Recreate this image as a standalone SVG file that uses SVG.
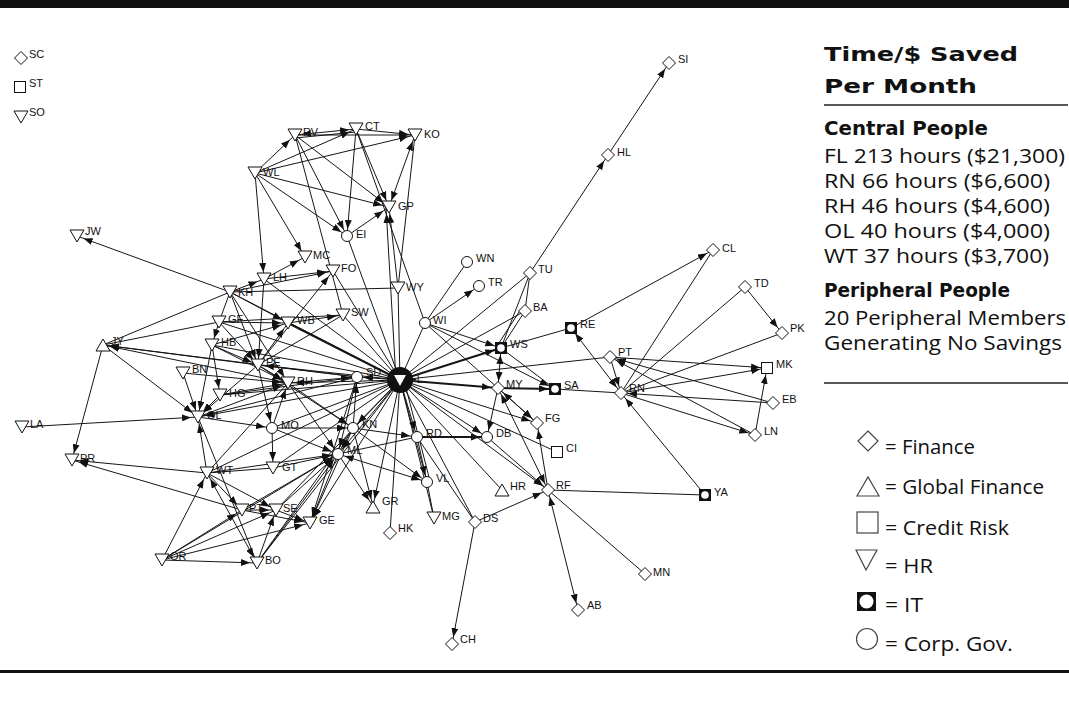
<svg xmlns="http://www.w3.org/2000/svg" xmlns:xlink="http://www.w3.org/1999/xlink" width="1069" height="702" viewBox="0 0 1069 702">
<style>
.e line{stroke:#161616;stroke-width:1;fill:none}
.e .a{marker-end:url(#ah)}
.e .b{marker-start:url(#ah);marker-end:url(#ah)}
.e .t{stroke-width:2}
.lb{font-family:"Liberation Sans Narrow","Liberation Sans",Arial,sans-serif;font-size:11px;fill:#111}
.p{font-family:"Open Sans",Lato,"Liberation Sans",sans-serif;fill:#111;font-size:20px}
.h{font-family:"DejaVu Sans","Open Sans",sans-serif;font-weight:bold}
.sh{fill:#fff;stroke:#111;stroke-width:1}
.lg{fill:#fff;stroke:#444;stroke-width:1.2}
</style>
<defs>
<marker id="ah" markerUnits="userSpaceOnUse" markerWidth="9" markerHeight="7" refX="16" refY="3.5" orient="auto-start-reverse"><path d="M0,0L9,3.5L0,7z" fill="#111"/></marker>
<polygon id="dia" class="sh" points="0,-6.5 6.5,0 0,6.5 -6.5,0"/>
<polygon id="tdn" class="sh" points="-7,-6 7,-6 0,6"/>
<polygon id="tup" class="sh" points="-7,6 7,6 0,-6"/>
<rect id="sq" class="sh" x="-5.5" y="-5.5" width="11" height="11"/>
<g id="it"><rect x="-6" y="-6" width="12" height="12" fill="#111"/><circle r="3.8" fill="#fff"/></g>
<circle id="cg" class="sh" r="5.5"/>
</defs>
<rect width="1069" height="702" fill="#fff"/>
<rect x="0" y="0" width="1069" height="8" fill="#111"/>
<rect x="0" y="670" width="1069" height="3" fill="#111"/>

<g id="edges" class="e">
<line class="a" x1="255" y1="173" x2="295" y2="135"/>
<line class="a" x1="255" y1="173" x2="356" y2="129"/>
<line class="a" x1="255" y1="173" x2="415" y2="135"/>
<line class="a" x1="255" y1="173" x2="389" y2="207"/>
<line class="a" x1="255" y1="173" x2="347" y2="236"/>
<line class="a" x1="255" y1="173" x2="305" y2="257"/>
<line class="a" x1="255" y1="173" x2="264" y2="279"/>
<line class="b" x1="295" y1="135" x2="356" y2="129"/>
<line x1="295" y1="138" x2="356" y2="132"/>
<line class="a" x1="295" y1="135" x2="415" y2="135"/>
<line class="a" x1="295" y1="135" x2="389" y2="207"/>
<line class="a" x1="295" y1="135" x2="347" y2="236"/>
<line class="a" x1="356" y1="129" x2="415" y2="135"/>
<line class="a" x1="356" y1="129" x2="389" y2="207"/>
<line class="a" x1="356" y1="129" x2="347" y2="236"/>
<line x1="356" y1="129" x2="425" y2="323"/>
<line class="b" x1="415" y1="135" x2="389" y2="207"/>
<line x1="415" y1="135" x2="398" y2="288"/>
<line class="a" x1="398" y1="288" x2="389" y2="207"/>
<line class="a" x1="396" y1="380" x2="386" y2="207"/>
<line class="a" x1="347" y1="236" x2="389" y2="207"/>
<line x1="347" y1="236" x2="400" y2="380"/>
<line x1="295" y1="135" x2="343" y2="315"/>
<line class="a" x1="230" y1="292" x2="77" y2="236"/>
<line class="a" x1="230" y1="292" x2="264" y2="279"/>
<line class="a" x1="230" y1="292" x2="333" y2="271"/>
<line x1="230" y1="292" x2="398" y2="288"/>
<line class="a" x1="264" y1="279" x2="305" y2="257"/>
<line class="a" x1="264" y1="279" x2="333" y2="271"/>
<line class="a" x1="264" y1="279" x2="258" y2="365"/>
<line class="a" x1="230" y1="292" x2="258" y2="365"/>
<line class="a" x1="230" y1="292" x2="288" y2="383"/>
<line x1="230" y1="292" x2="103" y2="345"/>
<line class="a" x1="230" y1="292" x2="288" y2="323"/>
<line x1="230" y1="292" x2="219" y2="322"/>
<line class="a" x1="219" y1="322" x2="212" y2="345"/>
<line class="a" x1="219" y1="322" x2="288" y2="323"/>
<line class="a" x1="219" y1="322" x2="258" y2="365"/>
<line x1="219" y1="322" x2="343" y2="315"/>
<line x1="103" y1="345" x2="219" y2="322"/>
<line class="a" x1="212" y1="345" x2="220" y2="395"/>
<line class="a" x1="212" y1="345" x2="198" y2="417"/>
<line class="a" x1="212" y1="345" x2="288" y2="323"/>
<line class="a" x1="212" y1="345" x2="258" y2="365"/>
<line class="a" x1="212" y1="345" x2="288" y2="383"/>
<line class="a" x1="103" y1="345" x2="72" y2="460"/>
<line class="a" x1="103" y1="345" x2="198" y2="417"/>
<line class="a" x1="258" y1="365" x2="103" y2="345"/>
<line class="a" x1="288" y1="383" x2="103" y2="345"/>
<line class="a" x1="357" y1="377" x2="103" y2="345"/>
<line class="a" x1="183" y1="373" x2="198" y2="417"/>
<line class="a" x1="183" y1="373" x2="288" y2="383"/>
<line class="a" x1="220" y1="395" x2="198" y2="417"/>
<line class="a" x1="220" y1="395" x2="288" y2="383"/>
<line x1="220" y1="395" x2="357" y2="377"/>
<line class="a" x1="258" y1="365" x2="198" y2="417"/>
<line class="a" x1="258" y1="365" x2="272" y2="428"/>
<line class="a" x1="258" y1="365" x2="288" y2="383"/>
<line x1="258" y1="365" x2="357" y2="377"/>
<line class="a" x1="258" y1="365" x2="288" y2="323"/>
<line class="a" x1="258" y1="365" x2="333" y2="271"/>
<line class="a" x1="258" y1="365" x2="353" y2="428"/>
<line class="a" x1="22" y1="427" x2="198" y2="417"/>
<line class="a" x1="207" y1="473" x2="198" y2="417"/>
<line x1="198" y1="417" x2="257" y2="563"/>
<line class="a" x1="198" y1="417" x2="288" y2="383"/>
<line x1="198" y1="417" x2="357" y2="377"/>
<line class="a" x1="198" y1="417" x2="272" y2="428"/>
<line class="a" x1="207" y1="473" x2="72" y2="460"/>
<line class="a" x1="242" y1="510" x2="72" y2="460"/>
<line x1="207" y1="473" x2="273" y2="468"/>
<line class="a" x1="207" y1="473" x2="338" y2="454"/>
<line class="a" x1="207" y1="473" x2="242" y2="510"/>
<line class="a" x1="207" y1="473" x2="276" y2="510"/>
<line class="b" x1="207" y1="473" x2="257" y2="563"/>
<line class="a" x1="162" y1="560" x2="207" y2="473"/>
<line class="a" x1="162" y1="560" x2="242" y2="510"/>
<line class="a" x1="162" y1="560" x2="276" y2="510"/>
<line class="a" x1="162" y1="560" x2="310" y2="523"/>
<line class="a" x1="162" y1="560" x2="257" y2="563"/>
<line class="a" x1="162" y1="560" x2="338" y2="454"/>
<line class="a" x1="257" y1="563" x2="276" y2="510"/>
<line class="a" x1="257" y1="563" x2="338" y2="454"/>
<line class="a" x1="242" y1="510" x2="276" y2="510"/>
<line class="a" x1="276" y1="510" x2="310" y2="523"/>
<line class="a" x1="242" y1="510" x2="310" y2="523"/>
<line class="a" x1="276" y1="510" x2="338" y2="454"/>
<line class="a" x1="338" y1="454" x2="310" y2="523"/>
<line class="a" x1="273" y1="468" x2="338" y2="454"/>
<line class="a" x1="272" y1="428" x2="273" y2="468"/>
<line class="a" x1="272" y1="428" x2="353" y2="428"/>
<line class="a" x1="272" y1="428" x2="288" y2="383"/>
<line class="a" x1="272" y1="428" x2="338" y2="454"/>
<line class="a" x1="288" y1="383" x2="338" y2="454"/>
<line class="a" x1="288" y1="383" x2="353" y2="428"/>
<line class="a" x1="288" y1="383" x2="357" y2="377"/>
<line class="a" x1="353" y1="428" x2="357" y2="377"/>
<line class="a" x1="357" y1="377" x2="338" y2="454"/>
<line class="a" x1="353" y1="428" x2="338" y2="454"/>
<line class="a" x1="353" y1="428" x2="417" y2="437"/>
<line class="a" x1="353" y1="428" x2="373" y2="506"/>
<line class="a" x1="353" y1="428" x2="427" y2="482"/>
<line class="a" x1="338" y1="454" x2="373" y2="506"/>
<line class="b" x1="338" y1="454" x2="427" y2="482"/>
<line x1="338" y1="454" x2="417" y2="437"/>
<line class="a t" x1="417" y1="437" x2="487" y2="437"/>
<line x1="417" y1="437" x2="427" y2="482"/>
<line x1="427" y1="482" x2="434" y2="518"/>
<line x1="417" y1="437" x2="475" y2="522"/>
<line x1="400" y1="380" x2="390" y2="533"/>
<line class="a" x1="400" y1="380" x2="373" y2="506"/>
<line class="a" x1="400" y1="380" x2="427" y2="482"/>
<line x1="404" y1="380" x2="430" y2="481"/>
<line class="a" x1="400" y1="380" x2="417" y2="437"/>
<line class="a" x1="400" y1="380" x2="487" y2="437"/>
<line class="a" x1="400" y1="380" x2="537" y2="423"/>
<line x1="400" y1="380" x2="557" y2="452"/>
<line class="a" x1="400" y1="380" x2="548" y2="490"/>
<line x1="400" y1="380" x2="502" y2="490"/>
<line class="a t" x1="400" y1="380" x2="498" y2="388"/>
<line class="a t" x1="400" y1="380" x2="501" y2="348"/>
<line x1="400" y1="380" x2="610" y2="357"/>
<line x1="400" y1="380" x2="530" y2="273"/>
<line x1="400" y1="380" x2="525" y2="311"/>
<line x1="400" y1="380" x2="425" y2="323"/>
<line x1="425" y1="323" x2="467" y2="262"/>
<line class="a" x1="425" y1="323" x2="479" y2="286"/>
<line class="a" x1="400" y1="380" x2="357" y2="377"/>
<line class="a" x1="400" y1="380" x2="288" y2="383"/>
<line class="a" x1="400" y1="380" x2="258" y2="365"/>
<line class="t" x1="400" y1="380" x2="288" y2="323"/>
<line x1="400" y1="380" x2="343" y2="315"/>
<line x1="400" y1="380" x2="333" y2="271"/>
<line x1="400" y1="380" x2="264" y2="279"/>
<line x1="400" y1="380" x2="230" y2="292"/>
<line x1="400" y1="380" x2="219" y2="322"/>
<line x1="400" y1="380" x2="212" y2="345"/>
<line x1="400" y1="380" x2="220" y2="395"/>
<line class="a" x1="400" y1="380" x2="198" y2="417"/>
<line x1="400" y1="380" x2="272" y2="428"/>
<line class="a" x1="400" y1="380" x2="353" y2="428"/>
<line class="a" x1="400" y1="380" x2="338" y2="454"/>
<line x1="400" y1="380" x2="273" y2="468"/>
<line x1="400" y1="380" x2="207" y2="473"/>
<line x1="400" y1="380" x2="276" y2="510"/>
<line class="a" x1="400" y1="380" x2="310" y2="523"/>
<line x1="400" y1="380" x2="257" y2="563"/>
<line x1="400" y1="380" x2="434" y2="518"/>
<line x1="400" y1="380" x2="475" y2="522"/>
<line x1="400" y1="380" x2="398" y2="288"/>
<line class="a" x1="425" y1="323" x2="501" y2="348"/>
<line class="a" x1="425" y1="323" x2="555" y2="389"/>
<line class="a" x1="425" y1="323" x2="537" y2="423"/>
<line class="a" x1="530" y1="273" x2="608" y2="155"/>
<line class="a" x1="608" y1="155" x2="669" y2="63"/>
<line x1="530" y1="273" x2="525" y2="311"/>
<line x1="525" y1="311" x2="501" y2="348"/>
<line x1="521" y1="309" x2="497" y2="346"/>
<line x1="530" y1="273" x2="501" y2="348"/>
<line x1="501" y1="348" x2="571" y2="328"/>
<line class="b" x1="501" y1="348" x2="498" y2="388"/>
<line x1="501" y1="348" x2="555" y2="389"/>
<line class="a t" x1="498" y1="388" x2="555" y2="389"/>
<line class="b" x1="498" y1="388" x2="537" y2="423"/>
<line class="a" x1="498" y1="388" x2="487" y2="437"/>
<line class="b" x1="548" y1="490" x2="498" y2="388"/>
<line class="a" x1="548" y1="490" x2="537" y2="423"/>
<line class="a" x1="487" y1="437" x2="548" y2="490"/>
<line x1="705" y1="495" x2="548" y2="490"/>
<line class="a" x1="705" y1="495" x2="621" y2="393"/>
<line class="a" x1="475" y1="522" x2="548" y2="490"/>
<line class="b" x1="548" y1="490" x2="578" y2="610"/>
<line x1="548" y1="490" x2="645" y2="574"/>
<line class="a" x1="475" y1="522" x2="452" y2="644"/>
<line class="a" x1="610" y1="357" x2="621" y2="393"/>
<line class="b" x1="571" y1="328" x2="621" y2="393"/>
<line class="a" x1="571" y1="328" x2="713" y2="250"/>
<line x1="713" y1="250" x2="621" y2="393"/>
<line class="a" x1="745" y1="287" x2="782" y2="333"/>
<line x1="745" y1="287" x2="621" y2="393"/>
<line x1="782" y1="333" x2="621" y2="393"/>
<line class="a" x1="610" y1="357" x2="767" y2="368"/>
<line class="a" x1="621" y1="393" x2="767" y2="368"/>
<line class="a" x1="773" y1="403" x2="610" y2="357"/>
<line class="a" x1="773" y1="403" x2="621" y2="393"/>
<line class="a" x1="755" y1="435" x2="610" y2="357"/>
<line class="a" x1="621" y1="393" x2="755" y2="435"/>
<line class="a" x1="755" y1="435" x2="767" y2="368"/>
<line x1="555" y1="389" x2="621" y2="393"/>
<line class="a" x1="353" y1="428" x2="310" y2="523"/>
<line class="a" x1="357" y1="377" x2="310" y2="523"/>
<line class="a" x1="242" y1="510" x2="338" y2="454"/>
<line class="a" x1="288" y1="323" x2="343" y2="315"/>
<line x1="343" y1="315" x2="258" y2="365"/>
<line x1="207" y1="473" x2="288" y2="383"/>
<line x1="257" y1="563" x2="353" y2="428"/>
</g>

<g id="n-SC"><use href="#dia" x="21" y="58"/><text class="lb" x="29" y="58">SC</text></g>
<g id="n-ST"><use href="#sq" x="20" y="87"/><text class="lb" x="29" y="87">ST</text></g>
<g id="n-SO"><use href="#tdn" x="21" y="117"/><text class="lb" x="29" y="116">SO</text></g>
<g id="n-JW"><use href="#tdn" x="77" y="236"/><text class="lb" x="85" y="235">JW</text></g>
<g id="n-WL"><use href="#tdn" x="255" y="173"/><text class="lb" x="263" y="176">WL</text></g>
<g id="n-RV"><use href="#tdn" x="295" y="135"/><text class="lb" x="303" y="136">RV</text></g>
<g id="n-CT"><use href="#tdn" x="356" y="129"/><text class="lb" x="365" y="130">CT</text></g>
<g id="n-KO"><use href="#tdn" x="415" y="135"/><text class="lb" x="424" y="138">KO</text></g>
<g id="n-GP"><use href="#tdn" x="389" y="207"/><text class="lb" x="398" y="210">GP</text></g>
<g id="n-EI"><use href="#cg" x="347" y="236"/><text class="lb" x="356" y="238">EI</text></g>
<g id="n-MC"><use href="#tdn" x="305" y="257"/><text class="lb" x="313" y="259">MC</text></g>
<g id="n-FO"><use href="#tdn" x="333" y="271"/><text class="lb" x="341" y="272">FO</text></g>
<g id="n-LH"><use href="#tdn" x="264" y="279"/><text class="lb" x="273" y="281">LH</text></g>
<g id="n-KH"><use href="#tdn" x="230" y="292"/><text class="lb" x="238" y="296">KH</text></g>
<g id="n-WY"><use href="#tdn" x="398" y="288"/><text class="lb" x="406" y="291">WY</text></g>
<g id="n-WN"><use href="#cg" x="467" y="262"/><text class="lb" x="476" y="262">WN</text></g>
<g id="n-TR"><use href="#cg" x="479" y="286"/><text class="lb" x="488" y="286">TR</text></g>
<g id="n-SI"><use href="#dia" x="669" y="63"/><text class="lb" x="678" y="63">SI</text></g>
<g id="n-HL"><use href="#dia" x="608" y="155"/><text class="lb" x="617" y="156">HL</text></g>
<g id="n-TU"><use href="#dia" x="530" y="273"/><text class="lb" x="538" y="273">TU</text></g>
<g id="n-CL"><use href="#dia" x="713" y="250"/><text class="lb" x="722" y="252">CL</text></g>
<g id="n-TD"><use href="#dia" x="745" y="287"/><text class="lb" x="754" y="287">TD</text></g>
<g id="n-BA"><use href="#dia" x="525" y="311"/><text class="lb" x="533" y="311">BA</text></g>
<g id="n-SW"><use href="#tdn" x="343" y="315"/><text class="lb" x="351" y="316">SW</text></g>
<g id="n-WB"><use href="#tdn" x="288" y="323"/><text class="lb" x="297" y="324">WB</text></g>
<g id="n-WI"><use href="#cg" x="425" y="323"/><text class="lb" x="433" y="324">WI</text></g>
<g id="n-GF"><use href="#tdn" x="219" y="322"/><text class="lb" x="228" y="323">GF</text></g>
<g id="n-HB"><use href="#tdn" x="212" y="345"/><text class="lb" x="221" y="346">HB</text></g>
<g id="n-JY"><use href="#tup" x="103" y="345"/><text class="lb" x="111" y="345">JY</text></g>
<g id="n-BN"><use href="#tdn" x="183" y="373"/><text class="lb" x="192" y="373">BN</text></g>
<g id="n-PE"><use href="#tdn" x="258" y="365"/><text class="lb" x="266" y="366">PE</text></g>
<g id="n-SD"><use href="#cg" x="357" y="377"/><text class="lb" x="366" y="376">SD</text></g>
<g id="n-FL"><circle cx="400" cy="380" r="13" fill="#111"/><polygon points="394,375 406,375 400,386" fill="#fff"/><text class="lb" x="410" y="383">FL</text></g>
<g id="n-RH"><use href="#tdn" x="288" y="383"/><text class="lb" x="297" y="385">RH</text></g>
<g id="n-HG"><use href="#tdn" x="220" y="395"/><text class="lb" x="229" y="397">HG</text></g>
<g id="n-OL"><use href="#tdn" x="198" y="417"/><text class="lb" x="207" y="419">OL</text></g>
<g id="n-LA"><use href="#tdn" x="22" y="427"/><text class="lb" x="30" y="428">LA</text></g>
<g id="n-MO"><use href="#cg" x="272" y="428"/><text class="lb" x="281" y="429">MO</text></g>
<g id="n-KN"><use href="#cg" x="353" y="428"/><text class="lb" x="362" y="428">KN</text></g>
<g id="n-RD"><use href="#cg" x="417" y="437"/><text class="lb" x="426" y="437">RD</text></g>
<g id="n-ML"><use href="#cg" x="338" y="454"/><text class="lb" x="347" y="454">ML</text></g>
<g id="n-PR"><use href="#tdn" x="72" y="460"/><text class="lb" x="80" y="462">PR</text></g>
<g id="n-WT"><use href="#tdn" x="207" y="473"/><text class="lb" x="216" y="474">WT</text></g>
<g id="n-GT"><use href="#tdn" x="273" y="468"/><text class="lb" x="282" y="471">GT</text></g>
<g id="n-PT1"><use href="#tdn" x="242" y="510"/><text class="lb" x="249" y="512">PT</text></g>
<g id="n-SE"><use href="#tdn" x="276" y="510"/><text class="lb" x="283" y="512">SE</text></g>
<g id="n-OR"><use href="#tdn" x="162" y="560"/><text class="lb" x="170" y="560">OR</text></g>
<g id="n-BO"><use href="#tdn" x="257" y="563"/><text class="lb" x="265" y="564">BO</text></g>
<g id="n-GE"><use href="#tdn" x="310" y="523"/><text class="lb" x="319" y="524">GE</text></g>
<g id="n-GR"><use href="#tup" x="373" y="507"/><text class="lb" x="382" y="505">GR</text></g>
<g id="n-HK"><use href="#dia" x="390" y="533"/><text class="lb" x="398" y="532">HK</text></g>
<g id="n-VL"><use href="#cg" x="427" y="482"/><text class="lb" x="436" y="482">VL</text></g>
<g id="n-MG"><use href="#tdn" x="434" y="518"/><text class="lb" x="442" y="520">MG</text></g>
<g id="n-DS"><use href="#dia" x="475" y="522"/><text class="lb" x="483" y="522">DS</text></g>
<g id="n-CH"><use href="#dia" x="452" y="644"/><text class="lb" x="460" y="643">CH</text></g>
<g id="n-HR"><use href="#tup" x="502" y="490"/><text class="lb" x="510" y="490">HR</text></g>
<g id="n-RF"><use href="#dia" x="548" y="490"/><text class="lb" x="556" y="489">RF</text></g>
<g id="n-AB"><use href="#dia" x="578" y="610"/><text class="lb" x="587" y="609">AB</text></g>
<g id="n-MN"><use href="#dia" x="645" y="574"/><text class="lb" x="653" y="576">MN</text></g>
<g id="n-YA"><use href="#it" x="705" y="495"/><text class="lb" x="714" y="496">YA</text></g>
<g id="n-CI"><use href="#sq" x="557" y="452"/><text class="lb" x="566" y="452">CI</text></g>
<g id="n-FG"><use href="#dia" x="537" y="423"/><text class="lb" x="545" y="422">FG</text></g>
<g id="n-DB"><use href="#cg" x="487" y="437"/><text class="lb" x="496" y="437">DB</text></g>
<g id="n-MY"><use href="#dia" x="498" y="388"/><text class="lb" x="506" y="388">MY</text></g>
<g id="n-SA"><use href="#it" x="555" y="389"/><text class="lb" x="564" y="389">SA</text></g>
<g id="n-WS"><use href="#it" x="501" y="348"/><text class="lb" x="510" y="348">WS</text></g>
<g id="n-RE"><use href="#it" x="571" y="328"/><text class="lb" x="580" y="328">RE</text></g>
<g id="n-PT2"><use href="#dia" x="610" y="357"/><text class="lb" x="618" y="356">PT</text></g>
<g id="n-RN"><use href="#dia" x="621" y="393"/><text class="lb" x="629" y="392">RN</text></g>
<g id="n-PK"><use href="#dia" x="782" y="333"/><text class="lb" x="790" y="332">PK</text></g>
<g id="n-MK"><use href="#sq" x="767" y="368"/><text class="lb" x="776" y="368">MK</text></g>
<g id="n-EB"><use href="#dia" x="773" y="403"/><text class="lb" x="782" y="403">EB</text></g>
<g id="n-LN"><use href="#dia" x="755" y="435"/><text class="lb" x="764" y="435">LN</text></g>

<g id="panel">
<text class="p h" x="824" y="61" font-size="24" textLength="194" lengthAdjust="spacingAndGlyphs">Time/$ Saved</text>
<text class="p h" x="824" y="93" font-size="24" textLength="153" lengthAdjust="spacingAndGlyphs">Per Month</text>
<line x1="824" y1="105" x2="1068" y2="105" stroke="#222" stroke-width="1.5"/>
<text class="p h" x="824" y="135" font-size="19.5" textLength="164" lengthAdjust="spacingAndGlyphs">Central People</text>
<text class="p" x="824" y="163" textLength="241" lengthAdjust="spacingAndGlyphs">FL 213 hours ($21,300)</text>
<text class="p" x="824" y="188" textLength="226" lengthAdjust="spacingAndGlyphs">RN 66 hours ($6,600)</text>
<text class="p" x="824" y="213" textLength="226" lengthAdjust="spacingAndGlyphs">RH 46 hours ($4,600)</text>
<text class="p" x="824" y="238" textLength="226" lengthAdjust="spacingAndGlyphs">OL 40 hours ($4,000)</text>
<text class="p" x="824" y="263" textLength="225" lengthAdjust="spacingAndGlyphs">WT 37 hours ($3,700)</text>
<text class="p h" x="824" y="297" font-size="18.5" textLength="186" lengthAdjust="spacingAndGlyphs">Peripheral People</text>
<text class="p" x="824" y="325" textLength="242" lengthAdjust="spacingAndGlyphs">20 Peripheral Members</text>
<text class="p" x="824" y="350" textLength="238" lengthAdjust="spacingAndGlyphs">Generating No Savings</text>
<line x1="824" y1="383" x2="1068" y2="383" stroke="#222" stroke-width="1.5"/>
</g>
<g id="legend">
<polygon class="lg" points="868,431 878,441 868,451 858,441"/>
<text class="p" x="885" y="454" textLength="90" lengthAdjust="spacingAndGlyphs">= Finance</text>
<polygon class="lg" points="857,496 879,496 868,477"/>
<text class="p" x="885" y="494" textLength="159" lengthAdjust="spacingAndGlyphs">= Global Finance</text>
<rect class="lg" x="857" y="512" width="21" height="21"/>
<text class="p" x="885" y="535" textLength="124" lengthAdjust="spacingAndGlyphs">= Credit Risk</text>
<polygon class="lg" points="856,550 877,550 866,570"/>
<text class="p" x="885" y="573" textLength="48" lengthAdjust="spacingAndGlyphs">= HR</text>
<rect x="857" y="592" width="19" height="19" fill="#111"/><circle cx="866.5" cy="601.5" r="7" fill="#fff"/>
<text class="p" x="885" y="612" textLength="38" lengthAdjust="spacingAndGlyphs">= IT</text>
<circle class="lg" cx="867" cy="639" r="10.5"/>
<text class="p" x="885" y="651" textLength="128" lengthAdjust="spacingAndGlyphs">= Corp. Gov.</text>
</g>
</svg>
